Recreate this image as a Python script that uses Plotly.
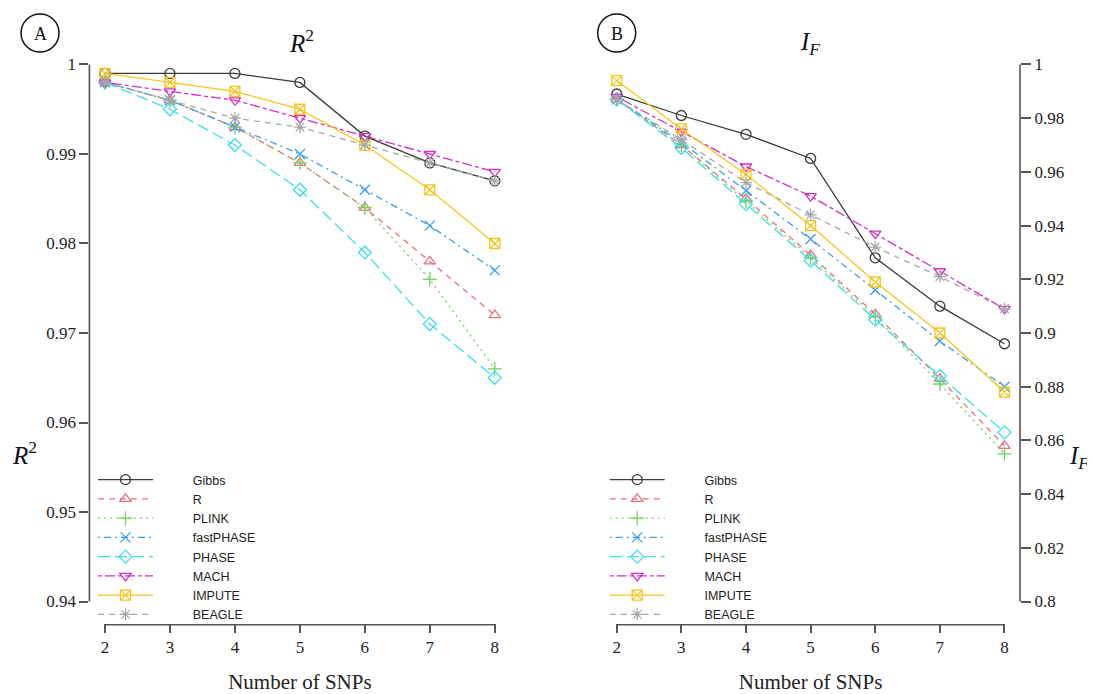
import plotly.graph_objects as go

# ---------------- data ----------------
snps = [2, 3, 4, 5, 6, 7, 8]
methods = ["Gibbs", "R", "PLINK", "fastPHASE", "PHASE", "MACH", "IMPUTE", "BEAGLE"]

r2_gibbs     = [0.999, 0.999, 0.999, 0.998, 0.992, 0.989, 0.987]
r2_r         = [0.998, 0.996, 0.993, 0.989, 0.984, 0.978, 0.972]
r2_plink     = [0.998, 0.996, 0.993, 0.989, 0.984, 0.976, 0.966]
r2_fastphase = [0.998, 0.996, 0.993, 0.990, 0.986, 0.982, 0.977]
r2_phase     = [0.998, 0.995, 0.991, 0.986, 0.979, 0.971, 0.965]
r2_mach      = [0.998, 0.997, 0.996, 0.994, 0.992, 0.990, 0.988]
r2_impute    = [0.999, 0.998, 0.997, 0.995, 0.991, 0.986, 0.980]
r2_beagle    = [0.998, 0.996, 0.994, 0.993, 0.991, 0.989, 0.987]

if_gibbs     = [0.989, 0.981, 0.974, 0.965, 0.928, 0.910, 0.896]
if_r         = [0.987, 0.970, 0.950, 0.929, 0.907, 0.883, 0.858]
if_plink     = [0.987, 0.970, 0.949, 0.928, 0.906, 0.881, 0.855]
if_fastphase = [0.987, 0.971, 0.953, 0.935, 0.916, 0.897, 0.880]
if_phase     = [0.987, 0.969, 0.948, 0.927, 0.905, 0.884, 0.863]
if_mach      = [0.988, 0.975, 0.962, 0.951, 0.937, 0.923, 0.909]
if_impute    = [0.994, 0.976, 0.959, 0.940, 0.919, 0.900, 0.878]
if_beagle    = [0.987, 0.972, 0.956, 0.944, 0.932, 0.921, 0.909]

r2_ticks = [0.94, 0.95, 0.96, 0.97, 0.98, 0.99, 1.0]
if_ticks = [0.80, 0.82, 0.84, 0.86, 0.88, 0.90, 0.92, 0.94, 0.96, 0.98, 1.0]

r2_series = [r2_gibbs, r2_r, r2_plink, r2_fastphase, r2_phase, r2_mach, r2_impute, r2_beagle]
if_series = [if_gibbs, if_r, if_plink, if_fastphase, if_phase, if_mach, if_impute, if_beagle]

# ---------------- styles ----------------
colors = ["#3a3a3a", "#E8707F", "#6FD35E", "#3A9FE8", "#3DE0E3", "#D42FC6", "#F5C520", "#A8A8A8"]
symbols = ["circle-open", "triangle-up-open", "cross-thin-open", "x-thin-open",
           "diamond-open", "triangle-down-open", "square-x-open", "asterisk-open"]
dashes = ["solid", "6px,5px", "2px,4px", "2px,4px,7px,4px", "12px,5px",
          "4px,3px,10px,3px", "solid", "6px,5px"]

# page body has an 8px default margin; work in screen pixels and convert
OFF = 8
W, H = 1095 - OFF, 694 - OFF
ML, MT = 89 - OFF, 43 - OFF
MR = W - (1020.5 - OFF)
MB = H - (623 - OFF)
PW = W - ML - MR
PH = H - MT - MB


def X(px):
    return (px - OFF - ML) / PW


def Y(py):
    return (H - MB - (py - OFF)) / PH


serif = "Liberation Serif"
sans = "Liberation Sans"
axcol = "#555555"
pad = "\u00a0" * 10

fig = go.Figure()

for panel, series, legname in [(1, r2_series, "legend"), (2, if_series, "legend2")]:
    for i, name in enumerate(methods):
        fig.add_trace(go.Scatter(
            x=snps, y=series[i], name=pad + name, mode="lines+markers",
            xaxis="x" if panel == 1 else "x2", yaxis="y" if panel == 1 else "y2",
            line=dict(color=colors[i], width=1.3, dash=dashes[i]),
            marker=dict(symbol=symbols[i], size=10, color=colors[i],
                        line=dict(color=colors[i], width=1.3)),
            legend=legname, cliponaxis=False,
        ))

xcommon = dict(range=[1.76, 8.24], tickvals=snps, ticks="outside", ticklen=9,
               tickwidth=1.5, tickcolor=axcol, showline=False, showgrid=False,
               zeroline=False, automargin=False,
               tickfont=dict(family=serif, size=17, color="#222"),
               title=dict(text="Number of SNPs", font=dict(family=serif, size=21, color="#222"),
                          standoff=19))
ycommon = dict(ticks="outside", tickwidth=1.5, tickcolor=axcol, showline=False,
               showgrid=False, zeroline=False, automargin=False,
               tickfont=dict(family=serif, size=17, color="#222"))
legcommon = dict(xanchor="left", yanchor="top", bgcolor="rgba(0,0,0,0)",
                 font=dict(family=sans, size=12.5, color="#222"), itemwidth=55,
                 tracegroupgap=0)

xA0 = X(89.4)
xA1 = X(510.6)
xB0 = X(601.5)

fig.update_layout(
    width=W, height=H, margin=dict(l=ML, r=MR, t=MT, b=MB, autoexpand=False),
    paper_bgcolor="white", plot_bgcolor="white",
    xaxis=dict(domain=[max(xA0, 0), xA1], anchor="y", **xcommon),
    xaxis2=dict(domain=[xB0, 1.0], anchor="y2", **xcommon),
    yaxis=dict(range=[0.9376, 1.0024], tickvals=r2_ticks, ticklen=9, anchor="x", **ycommon),
    yaxis2=dict(range=[0.792, 1.008], tickvals=if_ticks, ticklen=10, anchor="x2",
                side="right", **ycommon),
    legend=dict(x=X(93), y=Y(465), **legcommon),
    legend2=dict(x=X(605), y=Y(465), **legcommon),
    showlegend=True,
)

# axis lines spanning only the tick range (R style)
f0, f1 = 0.24 / 6.48, 1 - 0.24 / 6.48
shapes = []
for xd, yd, side in [("x domain", "y domain", "left"), ("x2 domain", "y2 domain", "right")]:
    shapes.append(dict(type="line", xref=xd, yref=yd, x0=f0, x1=f1, y0=-0.003, y1=-0.003,
                       line=dict(color=axcol, width=1.6)))
    xx = 0 if side == "left" else 1
    shapes.append(dict(type="line", xref=xd, yref=yd, x0=xx, x1=xx, y0=f0, y1=f1,
                       line=dict(color=axcol, width=1.6)))
# panel label circles
for cx in [40, 617]:
    shapes.append(dict(type="circle", xref="paper", yref="paper",
                       x0=X(cx - 19), x1=X(cx + 19), y0=Y(33 + 19), y1=Y(33 - 19),
                       line=dict(color="#111", width=1.5)))
fig.update_layout(shapes=shapes)

ann = [
    dict(x=X(40), y=Y(34), text="A", font=dict(family=serif, size=18, color="#111")),
    dict(x=X(617), y=Y(34), text="B", font=dict(family=serif, size=18, color="#111")),
    dict(x=X(302), y=Y(41), text="<i>R</i><sup>2</sup>", font=dict(family=serif, size=25, color="#111")),
    dict(x=X(810), y=Y(44), text="<i>I</i><sub><i>F</i></sub>", font=dict(family=serif, size=25, color="#111")),
    dict(x=X(24), y=Y(453), text="<i>R</i><sup>2</sup>", font=dict(family=serif, size=25, color="#111")),
    dict(x=X(1080), y=Y(457), text="<i>I</i><sub><i>F</i></sub>", font=dict(family=serif, size=25, color="#111")),
]
for a in ann:
    a.update(xref="paper", yref="paper", showarrow=False, xanchor="center", yanchor="middle")
fig.update_layout(annotations=ann)

fig.write_html("out.html")
